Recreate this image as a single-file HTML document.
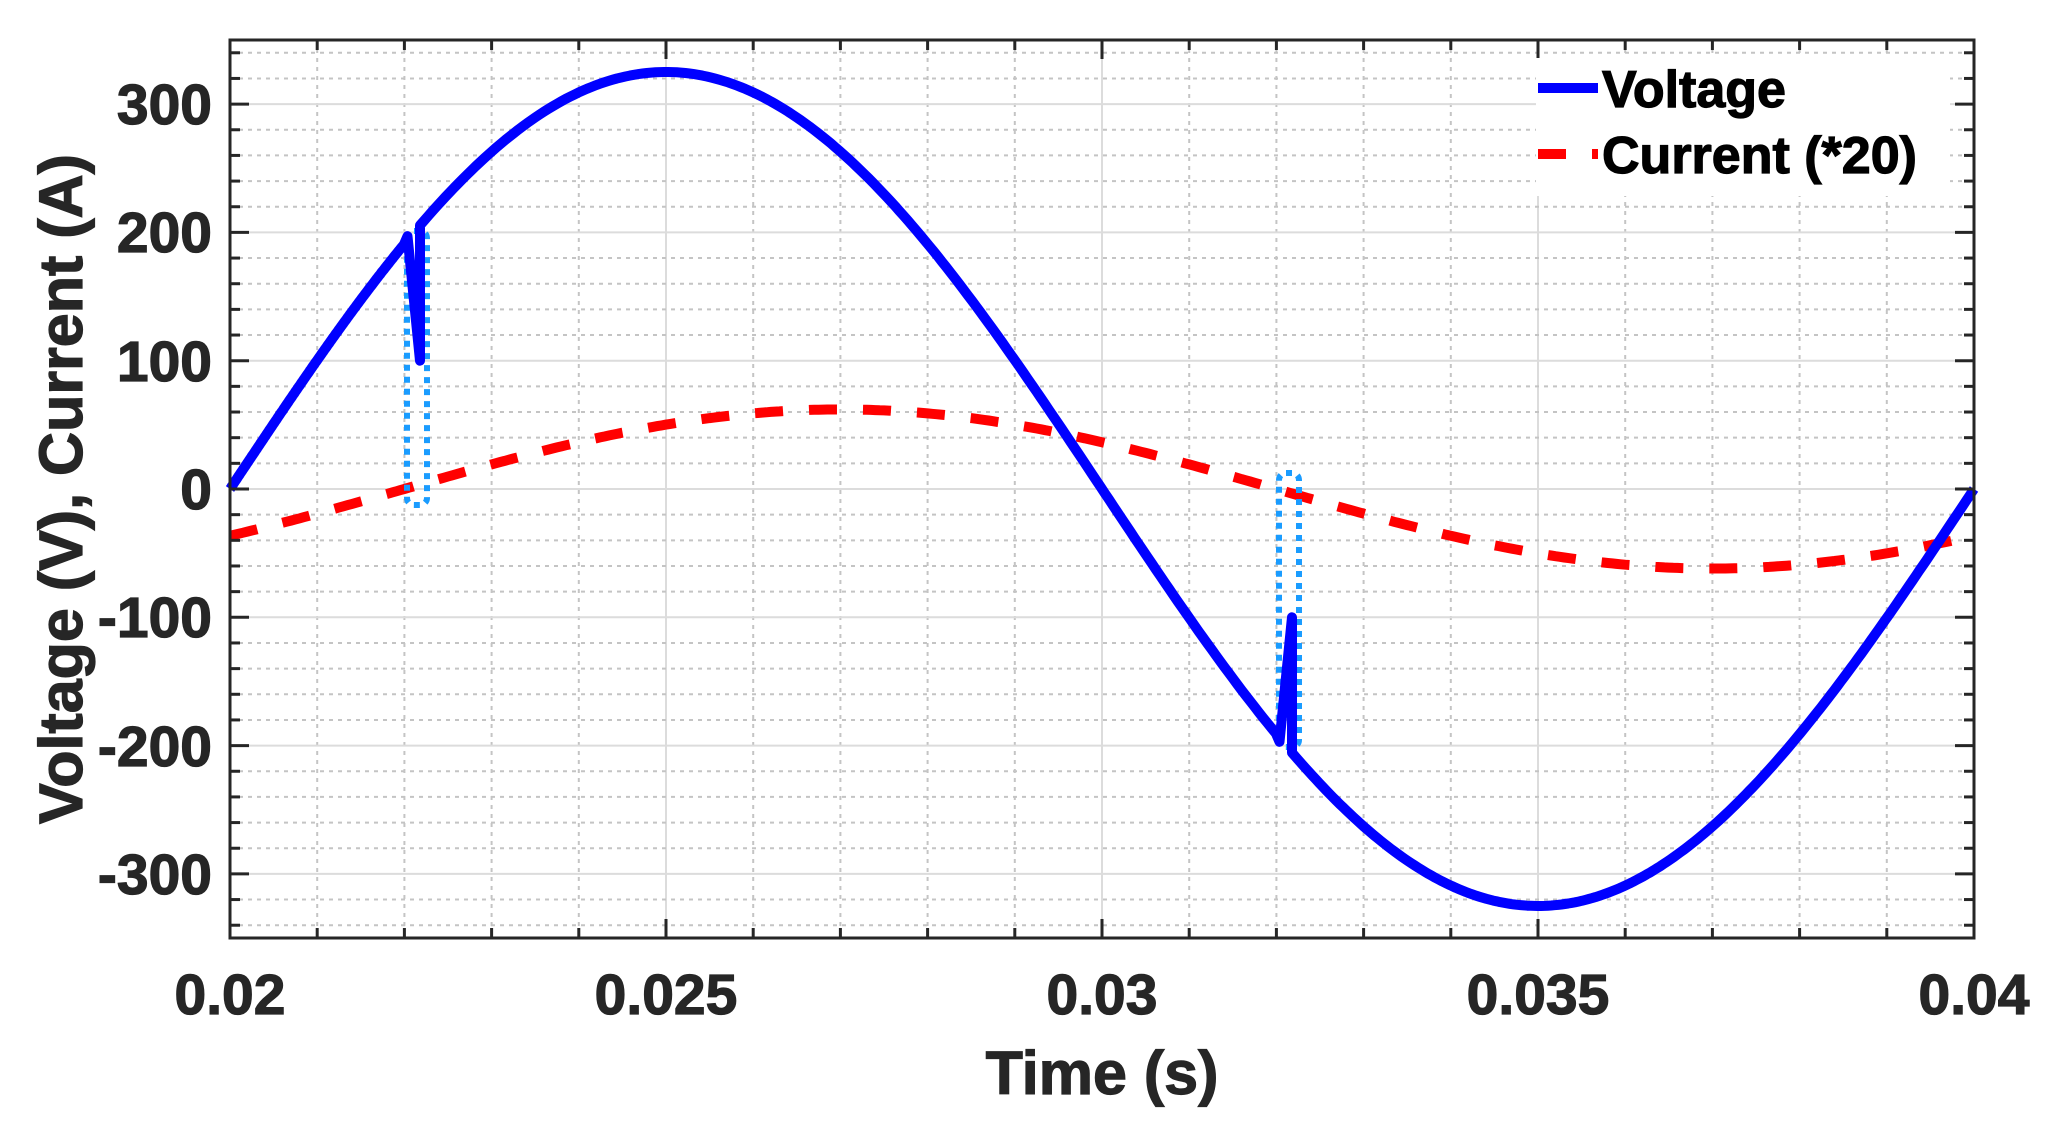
<!DOCTYPE html>
<html><head><meta charset="utf-8"><style>
html,body{margin:0;padding:0;background:#fff;}
svg{display:block;}
text{font-family:"Liberation Sans",Arial,sans-serif;font-weight:bold;}
</style></head><body>
<svg id="s" width="2066" height="1139" viewBox="0 0 2066 1139" xmlns="http://www.w3.org/2000/svg">
<rect width="2066" height="1139" fill="#fff"/>
<g id="grid"></g>
<g id="data"></g>
<g id="axes"></g>
<rect x="1536" y="58" width="414" height="138" fill="#fff"/>
<line x1="1538" y1="88" x2="1598" y2="88" stroke="#0000ff" stroke-width="10"/>
<line x1="1538" y1="154" x2="1598" y2="154" stroke="#ff0000" stroke-width="10" stroke-dasharray="28 26"/>
<g stroke="#000" stroke-width="1.2">
<text x="1602" y="107" font-size="52" fill="#000">Voltage</text>
<text x="1602" y="173" font-size="52" fill="#000">Current (*20)</text>
</g>
<g fill="#262626" font-size="57" stroke="#262626" stroke-width="1.2">
<text x="230" y="1014" text-anchor="middle">0.02</text>
<text x="666" y="1014" text-anchor="middle">0.025</text>
<text x="1102" y="1014" text-anchor="middle">0.03</text>
<text x="1538" y="1014" text-anchor="middle">0.035</text>
<text x="1974" y="1014" text-anchor="middle">0.04</text>
<text x="212" y="124" text-anchor="end">300</text>
<text x="212" y="252" text-anchor="end">200</text>
<text x="212" y="381" text-anchor="end">100</text>
<text x="212" y="509" text-anchor="end">0</text>
<text x="212" y="637" text-anchor="end">-100</text>
<text x="212" y="766" text-anchor="end">-200</text>
<text x="212" y="894" text-anchor="end">-300</text>
<text x="1102" y="1094" text-anchor="middle" font-size="61">Time (s)</text>
<text transform="translate(82,489) rotate(-90)" text-anchor="middle" font-size="61">Voltage (V), Current (A)</text>
</g>
</svg>
<script>
(function(){
var L=230,R=1974,T=40,B=938,C=489,K=1.283;
function X(t){return L+(t-0.02)/0.02*(R-L);}
function Y(v){return C-v*K;}
function V(t){return 325*Math.sin(2*Math.PI*50*t);}
var NS="http://www.w3.org/2000/svg";
function el(p,n,a){var e=document.createElementNS(NS,n);for(var k in a)e.setAttribute(k,a[k]);p.appendChild(e);return e;}
var g=document.getElementById('grid'),ax=document.getElementById('axes'),d=document.getElementById('data');
var i,t,v,x,y;
for(i=0;i<=20;i++){t=0.02+i*0.001;x=X(t);
 if(i%5==0){el(g,'line',{x1:x,y1:T,x2:x,y2:B,stroke:'#dcdcdc','stroke-width':2});}
 else{el(g,'line',{x1:x,y1:T,x2:x,y2:B,stroke:'#c4c4c4','stroke-width':2,'stroke-dasharray':'4 5'});}
}
for(v=-340;v<=340;v+=20){y=Y(v);
 if(v%100==0){el(g,'line',{x1:L,y1:y,x2:R,y2:y,stroke:'#dcdcdc','stroke-width':2});}
 else{el(g,'line',{x1:L,y1:y,x2:R,y2:y,stroke:'#c4c4c4','stroke-width':2,'stroke-dasharray':'4 5'});}
}
var pc=[];for(i=0;i<=400;i++){t=0.02+i*0.00005;pc.push(X(t).toFixed(1)+','+Y(62*Math.sin(2*Math.PI*50*(t-0.02)-0.628)).toFixed(1));}
el(d,'polyline',{points:pc.join(' '),fill:'none',stroke:'#ff0000','stroke-width':10,'stroke-dasharray':'28 26'});
el(d,'rect',{x:407,y:231,width:20,height:274,rx:7,fill:'none',stroke:'#1a9cff','stroke-width':6,'stroke-dasharray':'6 6'});
el(d,'rect',{x:1279,y:Y(12.5),width:20,height:274,rx:7,fill:'none',stroke:'#1a9cff','stroke-width':6,'stroke-dasharray':'6 6'});
var pv=[];
function seg(t0,t1){for(var k=0;k<=200;k++){var tt=t0+(t1-t0)*k/200;pv.push(X(tt).toFixed(1)+','+Y(V(tt)).toFixed(1));}}
var t1=0.021995,t2=0.022179;
seg(0.02,t1);
pv.push(X(t1+0.00004).toFixed(1)+','+Y(197).toFixed(1));
pv.push(X(t2).toFixed(1)+','+Y(100).toFixed(1));
seg(t2,t1+0.01);
pv.push(X(t1+0.01004).toFixed(1)+','+Y(-197).toFixed(1));
pv.push(X(t2+0.01).toFixed(1)+','+Y(-100).toFixed(1));
seg(t2+0.01,0.04);
el(d,'polyline',{points:pv.join(' '),fill:'none',stroke:'#0000ff','stroke-width':10,'stroke-linejoin':'round'});
for(i=0;i<=20;i++){x=X(0.02+i*0.001);var len=(i%5==0)?19:10;
 el(ax,'line',{x1:x,y1:B,x2:x,y2:B-len,stroke:'#262626','stroke-width':3});
 el(ax,'line',{x1:x,y1:T,x2:x,y2:T+len,stroke:'#262626','stroke-width':3});}
for(v=-340;v<=340;v+=20){y=Y(v);var len2=(v%100==0)?19:10;
 el(ax,'line',{x1:L,y1:y,x2:L+len2,y2:y,stroke:'#262626','stroke-width':3});
 el(ax,'line',{x1:R,y1:y,x2:R-len2,y2:y,stroke:'#262626','stroke-width':3});}
el(ax,'rect',{x:L,y:T,width:R-L,height:B-T,fill:'none',stroke:'#262626','stroke-width':3});
})();
</script>
</body></html>
